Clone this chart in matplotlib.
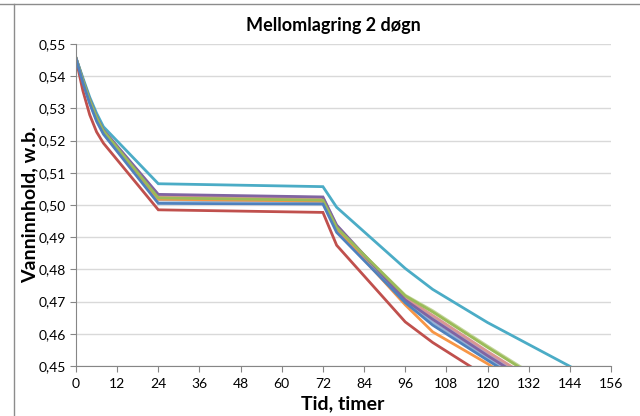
import matplotlib
matplotlib.use("Agg")
from matplotlib import pyplot as plt
from matplotlib.lines import Line2D
from matplotlib.ticker import FuncFormatter

# timer (hours) and water content per sample
hours = [0, 2, 4, 6, 8, 24, 72, 76, 96, 104, 120, 144]

blue = [0.5455, 0.5380, 0.5315, 0.5260, 0.5220, 0.5005, 0.5003, 0.4915, 0.4697, 0.4627, 0.4518, 0.4358]
red = [0.5453, 0.5355, 0.5280, 0.5227, 0.5192, 0.4985, 0.4977, 0.4875, 0.4637, 0.4573, 0.4465, 0.4305]
green = [0.5456, 0.5388, 0.5325, 0.5272, 0.5230, 0.5022, 0.5015, 0.4930, 0.4718, 0.4668, 0.4558, 0.4398]
purple = [0.5456, 0.5390, 0.5328, 0.5275, 0.5233, 0.5033, 0.5025, 0.4938, 0.4705, 0.4645, 0.4532, 0.4372]
teal = [0.5457, 0.5395, 0.5335, 0.5285, 0.5243, 0.5066, 0.5057, 0.4993, 0.4803, 0.4738, 0.4635, 0.4499]
orange = [0.5455, 0.5384, 0.5320, 0.5266, 0.5225, 0.5018, 0.5012, 0.4925, 0.4690, 0.4606, 0.4507, 0.4347]
light_blue = [0.5455, 0.5383, 0.5318, 0.5264, 0.5224, 0.5015, 0.5010, 0.4925, 0.4700, 0.4636, 0.4525, 0.4365]
pink = [0.5456, 0.5387, 0.5324, 0.5270, 0.5229, 0.5027, 0.5020, 0.4930, 0.4712, 0.4657, 0.4545, 0.4385]
light_green = [0.5456, 0.5388, 0.5326, 0.5273, 0.5231, 0.5020, 0.5013, 0.4928, 0.4720, 0.4672, 0.4562, 0.4402]
lavender = [0.5456, 0.5389, 0.5327, 0.5274, 0.5232, 0.5030, 0.5023, 0.4935, 0.4708, 0.4650, 0.4538, 0.4378]

series = [
    (blue, '#4F81BD'),
    (red, '#C0504D'),
    (green, '#9BBB59'),
    (purple, '#8064A2'),
    (teal, '#4BACC6'),
    (orange, '#F79646'),
    (light_blue, '#95B3D7'),
    (pink, '#D99694'),
    (light_green, '#C3D69B'),
    (lavender, '#B3A2C7'),
]

xticks = list(range(0, 157, 12))
yticks = [0.45, 0.46, 0.47, 0.48, 0.49, 0.50, 0.51, 0.52, 0.53, 0.54, 0.55]

plt.rcParams['font.family'] = ['Lato', 'DejaVu Sans']

fig = plt.figure(figsize=(6.4, 4.16), dpi=100)
ax = fig.add_axes([76 / 640, 1 - 366 / 416, (611 - 76) / 640, (366 - 44) / 416])

# plot the later series first so the first ones lie on top, like Excel
for vals, col in reversed(series):
    ax.plot(hours, vals, color=col, lw=2, solid_joinstyle='miter')

ax.set_xlim(0, 156)
ax.set_ylim(0.45, 0.55)
ax.set_xticks(xticks)
ax.set_yticks(yticks)
ax.yaxis.set_major_formatter(FuncFormatter(lambda v, p: f'{v:.2f}'.replace('.', ',')))
ax.grid(True, axis='y', color='#D9D9D9', lw=1)
ax.set_axisbelow(True)
for s in ['top', 'right']:
    ax.spines[s].set_visible(False)
for s in ['left', 'bottom']:
    ax.spines[s].set_color('#868686')
ax.tick_params(axis='both', direction='out', length=4, color='#868686',
               labelsize=10, labelcolor='#000000')
ax.tick_params(axis='x', pad=5)

fig.text(333 / 640, 1 - 25 / 416, 'Mellomlagring 2 døgn', ha='center', va='center',
         fontsize=13, fontweight='bold')
fig.text(343 / 640, 1 - 404 / 416, 'Tid, timer', ha='center', va='center',
         fontsize=14, fontweight='bold')
fig.text(30 / 640, 1 - 205 / 416, 'Vanninnhold, w.b.', ha='center', va='center',
         fontsize=14, fontweight='bold', rotation=90)

# spreadsheet cell border around the chart
fig.add_artist(Line2D([14 / 640, 14 / 640], [0, 1 - 4 / 416], color='#8C8C8C', lw=1))
fig.add_artist(Line2D([0, 1], [1 - 4 / 416, 1 - 4 / 416], color='#8C8C8C', lw=1))

plt.savefig('out.png', dpi=100)
